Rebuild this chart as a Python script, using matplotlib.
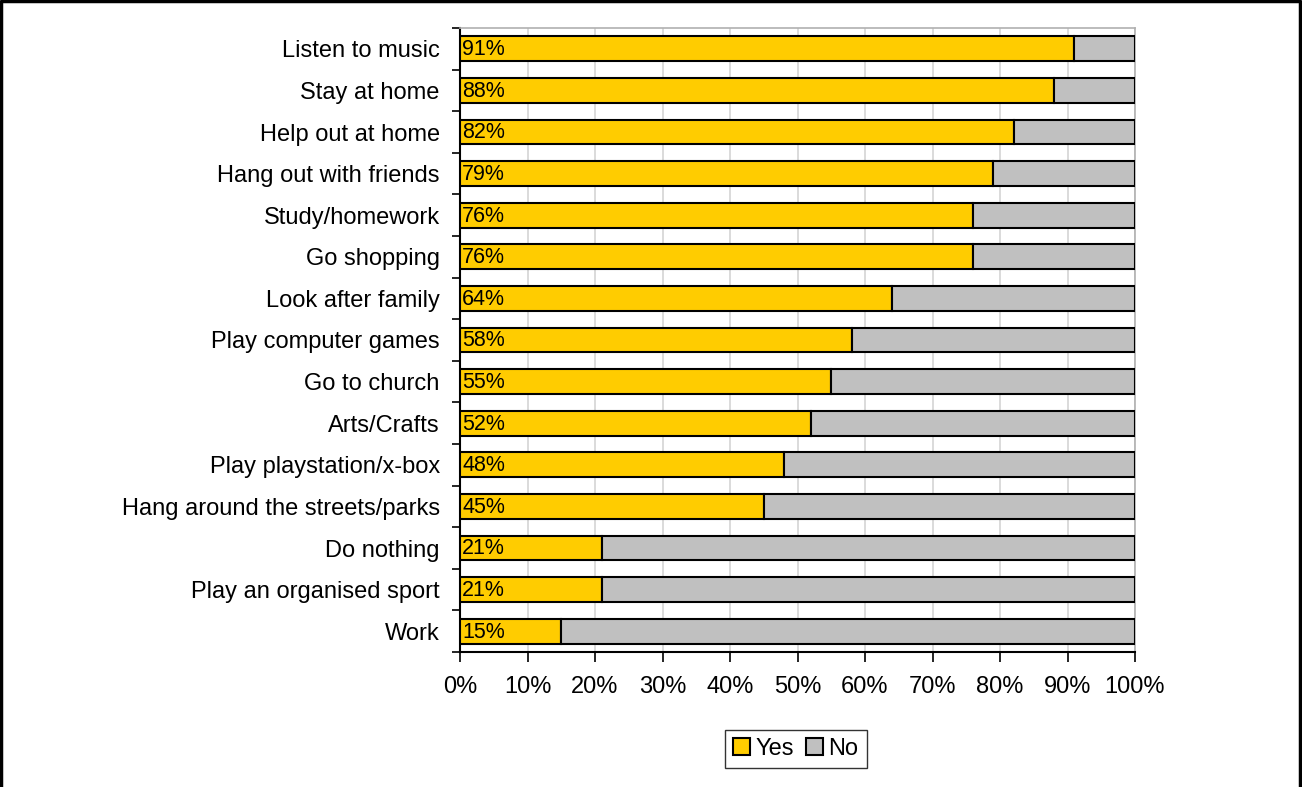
import numpy as np
import matplotlib.pyplot as plt
from matplotlib.lines import Line2D

plt.rcParams['font.family'] = ['Liberation Sans', 'DejaVu Sans']

activities = ['Listen to music', 'Stay at home', 'Help out at home',
              'Hang out with friends', 'Study/homework', 'Go shopping',
              'Look after family', 'Play computer games', 'Go to church',
              'Arts/Crafts', 'Play playstation/x-box',
              'Hang around the streets/parks', 'Do nothing',
              'Play an organised sport', 'Work']
yes_pct = [91, 88, 82, 79, 76, 76, 64, 58, 55, 52, 48, 45, 21, 21, 15]
no_pct = [100 - v for v in yes_pct]

fig = plt.figure(figsize=(13.02, 7.87), dpi=100)
ax = fig.add_axes([460 / 1302, 1 - 652 / 787, 675 / 1302, 624 / 787])

y = np.arange(len(activities))
ax.barh(y, yes_pct, height=0.6, color='#ffcc00', edgecolor='black',
        linewidth=1.5, label='Yes', zorder=3)
ax.barh(y, no_pct, left=yes_pct, height=0.6, color='#c0c0c0',
        edgecolor='black', linewidth=1.5, label='No', zorder=3)

for yi, v in zip(y, yes_pct):
    ax.text(0.3, yi + 0.02, f'{v}%', va='center', ha='left', fontsize=15.5, zorder=4)

ax.set_xlim(0, 100)
ax.set_ylim(len(activities) - 0.5, -0.5)
ax.set_xticks(np.arange(0, 101, 10))
ax.set_xticklabels([f'{v}%' for v in range(0, 101, 10)], fontsize=17)
ax.set_yticks(y)
ax.set_yticklabels(activities, fontsize=17)
ax.set_yticks(np.arange(-0.5, len(activities), 1), minor=True)
ax.tick_params(axis='y', which='major', length=0, pad=14.5)
ax.tick_params(axis='y', which='minor', length=6, width=1.2)
ax.tick_params(axis='x', length=7, width=1.2, pad=10)
ax.xaxis.grid(True, color='#d4d4d4', linewidth=1.2, zorder=0)
ax.set_axisbelow(True)
for side in ['top', 'right']:
    ax.spines[side].set_color('#b0b0b0')
    ax.spines[side].set_linewidth(1.2)
for side in ['left', 'bottom']:
    ax.spines[side].set_linewidth(1.5)

leg = fig.legend(loc='center', bbox_to_anchor=(796 / 1302, 1 - 749 / 787),
                 ncol=2, fontsize=17, frameon=True, fancybox=False,
                 edgecolor='black', handlelength=0.7, handleheight=0.7,
                 handletextpad=0.25, columnspacing=0.5, borderpad=0.35)
leg.get_frame().set_linewidth(1.0)

# outer frame: left, top and right edges only
fig.add_artist(Line2D([0.001, 0.001, 0.9985, 0.9985], [0, 0.999, 0.999, 0],
                      transform=fig.transFigure, color='black', linewidth=2.5))

fig.savefig('out.png', dpi=100)
